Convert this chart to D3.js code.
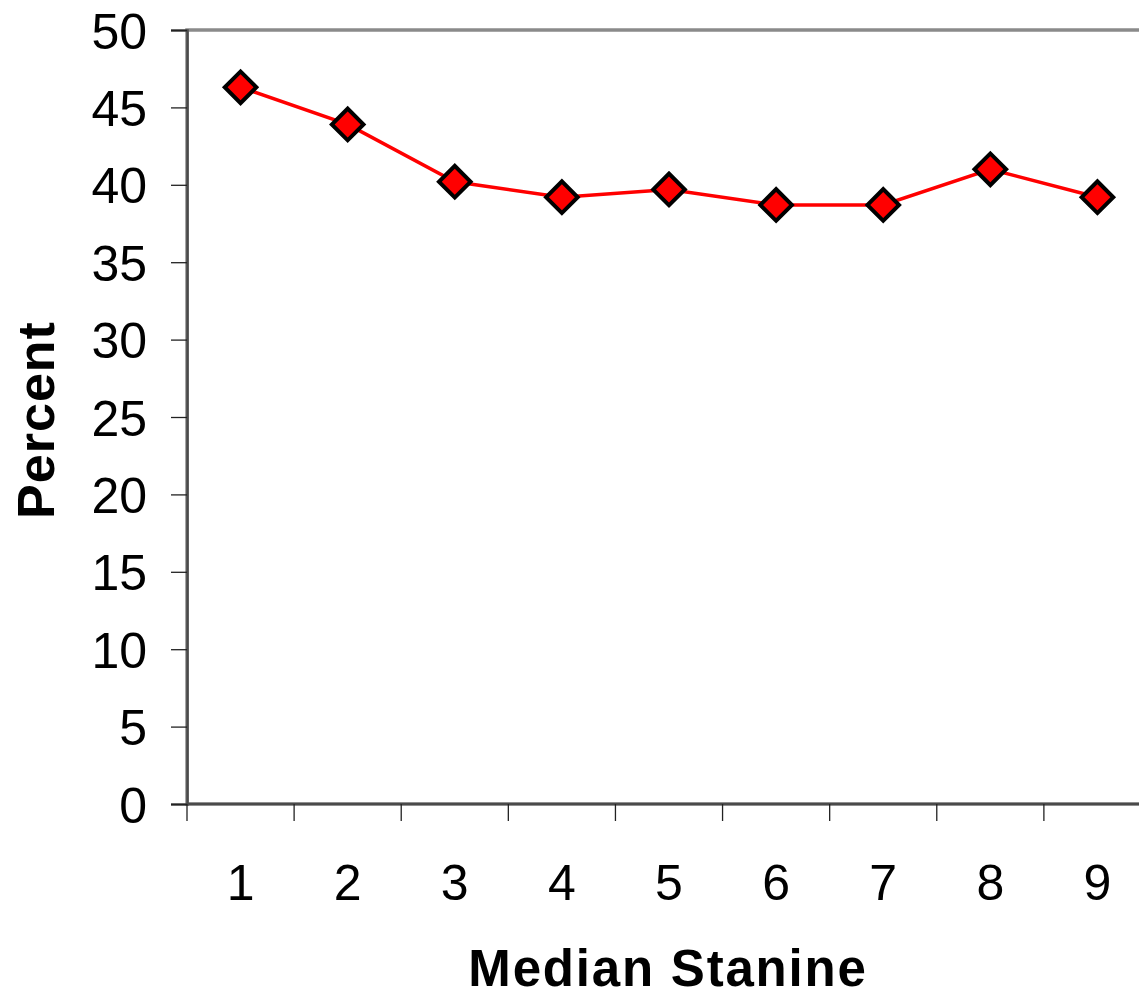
<!DOCTYPE html>
<html>
<head>
<meta charset="utf-8">
<script src="https://cdn.jsdelivr.net/npm/d3@7"></script>
<style>
  html, body { margin: 0; padding: 0; background: #fff; }
  svg { display: block; }
  text { font-family: "Liberation Sans", Arial, sans-serif; fill: #000; }
</style>
</head>
<body>
<svg id="chart" width="1139" height="999"></svg>
<script>
// Percent by median stanine
const categories = ["1", "2", "3", "4", "5", "6", "7", "8", "9"];
const percentValues = [46.3, 43.9, 40.2, 39.2, 39.7, 38.7, 38.7, 41.0, 39.2];
const yTicks = [0, 5, 10, 15, 20, 25, 30, 35, 40, 45, 50];

const svg = d3.select("#chart");
const plot = { left: 187, top: 30, right: 1151, bottom: 804 };

const x = d3.scaleBand().domain(categories).range([plot.left, plot.right]).padding(0);
const y = d3.scaleLinear().domain([0, 50]).range([plot.bottom, plot.top]);

// plot area frame (top edge visible, right edge runs off the canvas)
svg.append("rect")
  .attr("x", plot.left).attr("y", plot.top)
  .attr("width", plot.right - plot.left).attr("height", plot.bottom - plot.top)
  .attr("fill", "none").attr("stroke", "#8a8a8a").attr("stroke-width", 3.5);

// y axis
const yAxis = svg.append("g")
  .attr("transform", `translate(${plot.left},0)`)
  .call(d3.axisLeft(y).tickValues(yTicks).tickSize(16).tickPadding(24));
yAxis.select(".domain").attr("stroke", "#4a4a4a").attr("stroke-width", 2.5);
yAxis.selectAll(".tick line").attr("stroke", "#222").attr("stroke-width", 1.3);
yAxis.selectAll(".tick text")
  .style("font-family", "'Liberation Sans', Arial, sans-serif")
  .style("font-size", "50px").attr("fill", "#000").attr("dy", "0.36em");

// x axis: ticks sit on category boundaries, labels at centers
const xAxisG = svg.append("g").attr("transform", `translate(0,${plot.bottom})`);
xAxisG.append("line")
  .attr("x1", plot.left).attr("x2", plot.right)
  .attr("y1", 0).attr("y2", 0)
  .attr("stroke", "#4a4a4a").attr("stroke-width", 2.5);
const boundaries = categories.map(c => x(c));
xAxisG.selectAll("line.tick")
  .data(boundaries)
  .join("line")
  .attr("class", "tick")
  .attr("x1", d => d).attr("x2", d => d)
  .attr("y1", 0).attr("y2", 17)
  .attr("stroke", "#222").attr("stroke-width", 1.3);
xAxisG.selectAll("text.label")
  .data(categories)
  .join("text")
  .attr("class", "label")
  .attr("x", d => x(d) + x.bandwidth() / 2)
  .attr("y", 78)
  .attr("dy", "0.36em")
  .attr("text-anchor", "middle")
  .style("font-size", "50px")
  .text(d => d);

// axis titles
svg.append("text")
  .attr("transform", `translate(54,${(plot.top + plot.bottom) / 2 + 3}) rotate(-90)`)
  .attr("text-anchor", "middle")
  .style("font-size", "52px").style("font-weight", "bold")
  .style("letter-spacing", "1px")
  .text("Percent");

svg.append("text")
  .attr("x", 668).attr("y", 986)
  .attr("text-anchor", "middle")
  .style("font-size", "51px").style("font-weight", "bold")
  .style("letter-spacing", "1.8px")
  .text("Median Stanine");

// series line
const points = categories.map((c, i) => ({ c, v: percentValues[i] }));
const line = d3.line()
  .x(d => x(d.c) + x.bandwidth() / 2)
  .y(d => y(d.v));
svg.append("path")
  .datum(points)
  .attr("d", line)
  .attr("fill", "none").attr("stroke", "#ff0000").attr("stroke-width", 3.5);

// diamond markers
const diamond = d3.symbol().type(d3.symbolSquare).size(500);
svg.selectAll("path.marker")
  .data(points)
  .join("path")
  .attr("class", "marker")
  .attr("d", diamond)
  .attr("transform", d => `translate(${x(d.c) + x.bandwidth() / 2},${y(d.v)}) rotate(45)`)
  .attr("fill", "#ff0000").attr("stroke", "#000").attr("stroke-width", 4)
  .attr("stroke-linejoin", "miter");
</script>
</body>
</html>
